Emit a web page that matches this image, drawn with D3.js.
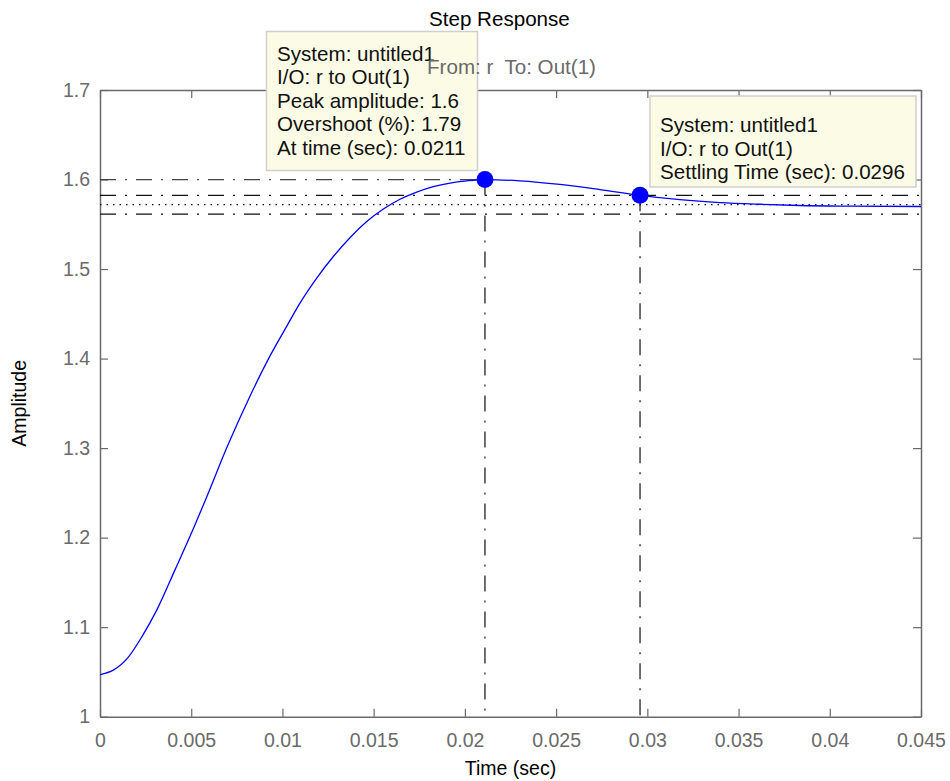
<!DOCTYPE html>
<html>
<head>
<meta charset="utf-8">
<script src="https://cdn.jsdelivr.net/npm/d3@7"></script>
<style>
  body { margin: 0; background: #fff; }
  svg text { font-family: "Liberation Sans", Arial, sans-serif; }
</style>
</head>
<body>
<div id="chart"></div>
<script>
// step response samples
const timeData = [0, 0.00073, 0.00153, 0.0023, 0.00311, 0.00411, 0.00503, 0.00594, 0.00694,
  0.00822, 0.00932, 0.01023, 0.01096, 0.01188, 0.01279, 0.0137, 0.01462, 0.01553, 0.01644,
  0.01736, 0.01827, 0.01918, 0.0201, 0.0211, 0.02302, 0.02521, 0.0274, 0.0296, 0.03179,
  0.03398, 0.03618, 0.03837, 0.04111, 0.045];
const ampData = [1.047, 1.052, 1.066, 1.0895, 1.119, 1.164, 1.206, 1.25, 1.3,
  1.358, 1.403, 1.436, 1.462, 1.49, 1.514, 1.535, 1.553, 1.567, 1.578,
  1.586, 1.592, 1.596, 1.5985, 1.6, 1.5985, 1.5945, 1.5888, 1.5824, 1.5775,
  1.5743, 1.5724, 1.571, 1.5703, 1.5699];

const xTicks = [0, 0.005, 0.01, 0.015, 0.02, 0.025, 0.03, 0.035, 0.04, 0.045];
const yTicks = [1, 1.1, 1.2, 1.3, 1.4, 1.5, 1.6, 1.7];

const peakPoint = { t: 0.0211, v: 1.6 };
const settlePoint = { t: 0.0296, v: 1.5824 };
const finalValue = 1.5719;
const settleBand = [1.5824, 1.5614];

const peakLines = ["System: untitled1", "I/O: r to Out(1)", "Peak amplitude: 1.6",
  "Overshoot (%): 1.79", "At time (sec): 0.0211"];
const settleLines = ["System: untitled1", "I/O: r to Out(1)", "Settling Time (sec): 0.0296"];

const width = 950, height = 781;
const margin = { top: 90, right: 29, bottom: 64.3, left: 100 };
const innerW = width - margin.left - margin.right;
const innerH = height - margin.top - margin.bottom;

const svg = d3.select("#chart").append("svg")
  .attr("width", width)
  .attr("height", height);

const x = d3.scaleLinear().domain([0, 0.045]).range([0, innerW]);
const y = d3.scaleLinear().domain([1, 1.7]).range([innerH, 0]);

const g = svg.append("g").attr("transform", `translate(${margin.left},${margin.top})`);

const axisColor = "#6a6a6a";
const fmt = d => String(+d.toFixed(4));

// axes with inward ticks on all four sides
function styleAxis(sel) {
  sel.select(".domain").attr("stroke", axisColor).attr("stroke-width", 1.5);
  sel.selectAll(".tick line").attr("stroke", axisColor).attr("stroke-width", 1.2);
  sel.selectAll(".tick text").attr("fill", axisColor).style("font-size", "19.5px");
}

g.append("g").attr("transform", `translate(0,${innerH})`)
  .call(d3.axisBottom(x).tickValues(xTicks).tickFormat(fmt).tickSizeInner(-8).tickSizeOuter(0).tickPadding(16))
  .call(styleAxis);
g.append("g")
  .call(d3.axisTop(x).tickValues(xTicks).tickFormat("").tickSizeInner(-8).tickSizeOuter(0))
  .call(styleAxis);
g.append("g")
  .call(d3.axisLeft(y).tickValues(yTicks).tickFormat(fmt).tickSizeInner(-8).tickSizeOuter(0).tickPadding(10))
  .call(styleAxis);
g.append("g").attr("transform", `translate(${innerW},0)`)
  .call(d3.axisRight(y).tickValues(yTicks).tickFormat("").tickSizeInner(-8).tickSizeOuter(0))
  .call(styleAxis);

// characteristic reference lines
const dashDot = "16,9,2,9";
const refs = g.append("g").attr("fill", "none").attr("stroke-width", 1.2);

refs.append("line")
  .attr("x1", 0).attr("x2", x(peakPoint.t))
  .attr("y1", y(peakPoint.v)).attr("y2", y(peakPoint.v))
  .attr("stroke", "#444").attr("stroke-dasharray", dashDot);

settleBand.forEach(v => {
  refs.append("line")
    .attr("x1", 0).attr("x2", innerW)
    .attr("y1", y(v)).attr("y2", y(v))
    .attr("stroke", "#111").attr("stroke-dasharray", dashDot);
});

refs.append("line")
  .attr("x1", 0).attr("x2", innerW)
  .attr("y1", y(finalValue)).attr("y2", y(finalValue))
  .attr("stroke", "#111").attr("stroke-dasharray", "1.5,5");

[peakPoint, settlePoint].forEach(p => {
  refs.append("line")
    .attr("x1", x(p.t)).attr("x2", x(p.t))
    .attr("y1", y(p.v)).attr("y2", innerH)
    .attr("stroke", "#111").attr("stroke-dasharray", dashDot);
});

// response curve
const series = timeData.map((t, i) => ({ t, v: ampData[i] }));
g.append("path")
  .datum(series)
  .attr("fill", "none")
  .attr("stroke", "#0000ff")
  .attr("stroke-width", 1.3)
  .attr("d", d3.line().x(d => x(d.t)).y(d => y(d.v)).curve(d3.curveMonotoneX));

g.selectAll(".marker")
  .data([peakPoint, settlePoint])
  .enter().append("circle")
  .attr("class", "marker")
  .attr("cx", d => x(d.t))
  .attr("cy", d => y(d.v))
  .attr("r", 8.5)
  .attr("fill", "#0000ff");

// data tips
function dataTip(left, top, w, h, lines, textX, firstBase) {
  svg.append("rect")
    .attr("x", left).attr("y", top).attr("width", w).attr("height", h)
    .attr("fill", "#fcfce6").attr("stroke", "#cfcfcf").attr("stroke-width", 1.5);
  svg.append("g").selectAll("text")
    .data(lines)
    .enter().append("text")
    .attr("x", textX)
    .attr("y", (d, i) => firstBase + i * 23.6)
    .attr("fill", "#111")
    .style("font-size", "20.6px")
    .text(d => d);
}
dataTip(266.5, 31.5, 211, 139, peakLines, 277, 60.5);
dataTip(650, 96, 266, 91, settleLines, 660, 132);

// titles
svg.append("text")
  .attr("x", 429).attr("y", 26)
  .attr("fill", "#000")
  .style("font-size", "20.6px")
  .text("Step Response");

svg.append("text")
  .attr("x", 427).attr("y", 73.5)
  .attr("fill", axisColor)
  .style("font-size", "20.6px")
  .attr("xml:space", "preserve")
  .style("white-space", "pre")
  .text("From: r  To: Out(1)");

svg.append("text")
  .attr("x", margin.left + innerW / 2).attr("y", 775)
  .attr("text-anchor", "middle")
  .attr("fill", "#000")
  .style("font-size", "19.5px")
  .text("Time (sec)");

svg.append("text")
  .attr("transform", `translate(26,${margin.top + innerH / 2}) rotate(-90)`)
  .attr("text-anchor", "middle")
  .attr("fill", "#000")
  .style("font-size", "19.5px")
  .text("Amplitude");
</script>
</body>
</html>
